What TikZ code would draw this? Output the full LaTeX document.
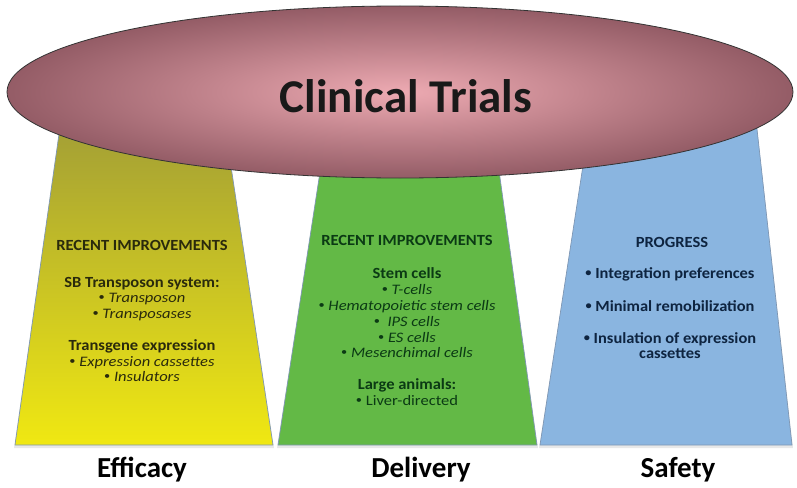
\documentclass[tikz,border=0pt]{standalone}
\usepackage{fontspec}
\setmainfont{Carlito}
\definecolor{olivetop}{HTML}{A29E36}
\definecolor{yellowbot}{HTML}{F0E812}
\definecolor{delgreen}{HTML}{63B946}
\definecolor{safblue}{HTML}{8AB5E0}
\definecolor{pillar}{HTML}{7F97B4}
\definecolor{capin}{HTML}{EDAAB2}
\definecolor{capout}{HTML}{945C66}
\definecolor{efftext}{HTML}{2A2A0C}
\definecolor{deltext}{HTML}{0B3A14}
\definecolor{saftext}{HTML}{0E2440}
% small round bullet used in the lists
\newcommand\listdot{\raisebox{0.12em}{\scalebox{0.75}{•}}}
% slightly widened lettering for the column texts
\newcommand\widerby{1}
\newcommand\wtext[1]{\scalebox{\widerby}[1]{#1}}
\tikzset{
  pillarshape/.style={draw=pillar, line width=0.7pt},
  pillarshadow/.style={fill=black!30, opacity=0.3},
  head/.style={anchor=base, inner sep=0pt, font=\fontsize{15.5}{15.5}\selectfont\bfseries,
    /utils/exec=\renewcommand\widerby{1.065}},
  item/.style={anchor=base, inner sep=0pt, font=\fontsize{14.5}{14.5}\selectfont,
    /utils/exec=\renewcommand\widerby{1.14}},
  boldline/.style={anchor=base, inner sep=0pt, font=\fontsize{15.5}{15.5}\selectfont\bfseries,
    /utils/exec=\renewcommand\widerby{1.06}},
  footer/.style={anchor=base, inner sep=0pt, font=\fontsize{29}{29}\selectfont\bfseries},
}
\begin{document}
\begin{tikzpicture}[x=1pt,y=-1pt]
\useasboundingbox (0,0) rectangle (797,487);

% pillar shadows
\fill[pillarshadow] (61,122) -- (224,122) -- (274,448) -- (14,448) -- cycle;
\fill[pillarshadow] (328,122) -- (492,122) -- (538,448) -- (277,448) -- cycle;
\fill[pillarshadow] (590,122) -- (756,122) -- (793,448) -- (539,448) -- cycle;

% the three pillars
\path[pillarshape, top color=olivetop, bottom color=yellowbot]
  (61,120) -- (224,120) -- (273,445) -- (15,445) -- cycle;
\path[pillarshape, fill=delgreen]
  (328,120) -- (492,120) -- (537,445) -- (278,445) -- cycle;
\path[pillarshape, fill=safblue]
  (590,120) -- (756,120) -- (792,445) -- (540,445) -- cycle;

% the capstone
\path[draw=black!80, line width=0.8pt, inner color=capin, outer color=capout]
  (400,92) ellipse [x radius=393, y radius=86];
\node[anchor=base, inner sep=0pt, font=\fontsize{47}{47}\selectfont\bfseries, text=black!90]
  (title) at (406,112) {Clinical Trials};

% efficacy column
\begin{scope}[text=efftext]
\node[head] (e1) at (142,250) {\wtext{RECENT IMPROVEMENTS}};
\node[head] (e2) at (142,287.5) {\wtext{SB Transposon system:}};
\node[item] (e3) at (142,302.5) {\wtext{\listdot\ \textit{Transposon}}};
\node[item] (e4) at (142,318) {\wtext{\listdot\ \textit{Transposases}}};
\node[head] (e5) at (142,350) {\wtext{Transgene expression}};
\node[item] (e6) at (142,366) {\wtext{\listdot\ \textit{Expression cassettes}}};
\node[item] (e7) at (142,381) {\wtext{\listdot\ \textit{Insulators}}};
\end{scope}

% delivery column
\begin{scope}[text=deltext]
\node[head] (d1) at (407,245) {\wtext{RECENT IMPROVEMENTS}};
\node[head] (d2) at (407,278) {\wtext{Stem cells}};
\node[item] (d3) at (407,294) {\wtext{\listdot\ \textit{T-cells}}};
\node[item] (d4) at (407,310) {\wtext{\listdot\ \textit{Hematopoietic stem cells}}};
\node[item] (d5) at (407,326) {\wtext{\listdot\ \ \textit{IPS cells}}};
\node[item] (d6) at (407,342) {\wtext{\listdot\ \textit{ES cells}}};
\node[item] (d7) at (407,357) {\wtext{\listdot\ \textit{Mesenchimal cells}}};
\node[head] (d8) at (407,389) {\wtext{Large animals:}};
\node[item] (d9) at (407,405) {\wtext{\listdot\ Liver-directed}};
\end{scope}

% safety column
\begin{scope}[text=saftext]
\node[head] (s1) at (672,247) {\wtext{PROGRESS}};
\node[boldline] (s2) at (670,278) {\wtext{\listdot\ Integration preferences}};
\node[boldline] (s3) at (670,311) {\wtext{\listdot\ Minimal remobilization}};
\node[boldline] (s4) at (670,343) {\wtext{\listdot\ Insulation of expression}};
\node[boldline] (s5) at (670,358) {\wtext{cassettes}};
\end{scope}

% column labels
\node[footer] (f1) at (142,477) {Efficacy};
\node[footer] (f2) at (421,477) {Delivery};
\node[footer] (f3) at (678,477) {Safety};
\end{tikzpicture}
\end{document}
